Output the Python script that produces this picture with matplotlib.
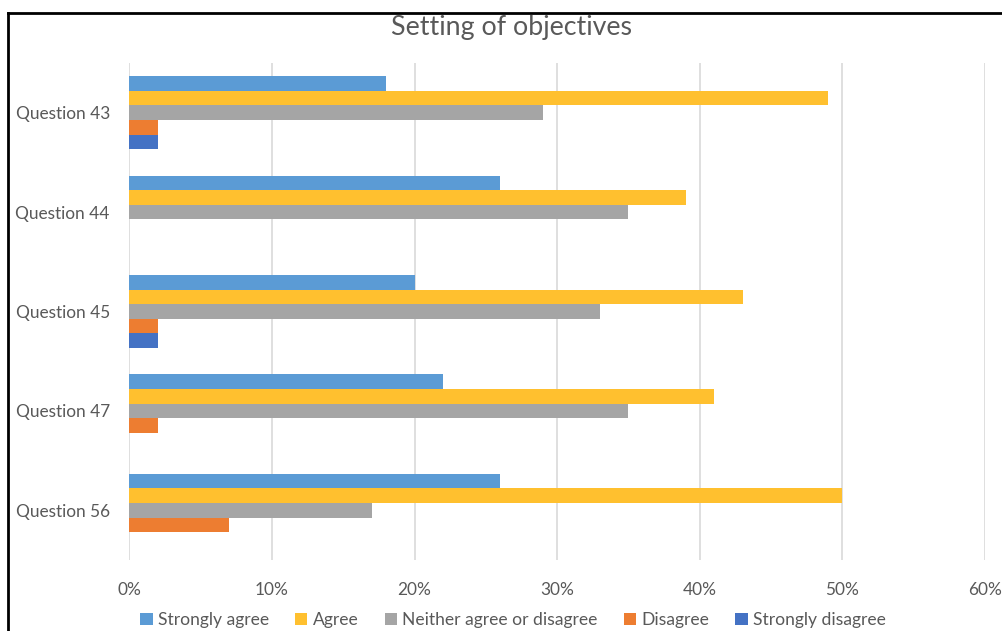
import numpy as np
import matplotlib
matplotlib.use("Agg")
import matplotlib.pyplot as plt
from matplotlib.lines import Line2D
from matplotlib.ticker import PercentFormatter

# Survey responses (share of respondents) per question
questions = ["Question 43", "Question 44", "Question 45", "Question 47", "Question 56"]
series_names = ["Strongly agree", "Agree", "Neither agree or disagree", "Disagree", "Strongly disagree"]
strongly_agree = [0.18, 0.26, 0.20, 0.22, 0.26]
agree = [0.49, 0.39, 0.43, 0.41, 0.50]
neither = [0.29, 0.35, 0.33, 0.35, 0.17]
disagree = [0.02, 0.0, 0.02, 0.02, 0.07]
strongly_disagree = [0.02, 0.0, 0.02, 0.0, 0.0]

series_values = [strongly_agree, agree, neither, disagree, strongly_disagree]
colors = ["#5B9BD5", "#FFC02F", "#A5A5A5", "#ED7D31", "#4472C4"]

text_color = "#595959"
font = "Lato"

W, H = 1002, 631
fig = plt.figure(figsize=(W / 100, H / 100), dpi=100)
ax = fig.add_axes([129.3 / W, 1 - 560 / H, (985 - 129.3) / W, (560 - 63) / H])

n_series = len(series_values)
bar_h = 0.147
y = np.arange(len(questions))
for i, (vals, c, name) in enumerate(zip(series_values, colors, series_names)):
    offset = (i - (n_series - 1) / 2) * bar_h
    ax.barh(y + offset, vals, height=bar_h, color=c, label=name, zorder=3)

ax.set_ylim(len(questions) - 0.5, -0.5)
ax.set_xlim(0, 0.6)
ax.set_xticks(np.arange(0, 0.61, 0.1))
ax.xaxis.set_major_formatter(PercentFormatter(1.0, decimals=0))
ax.set_yticks(y)
ax.set_yticklabels(questions)
ax.grid(axis="x", color="#D9D9D9", linewidth=1.2, zorder=0)
for s in ax.spines.values():
    s.set_visible(False)
ax.tick_params(axis="both", length=0, colors=text_color, labelsize=12.4)
ax.tick_params(axis="x", pad=16)
ax.tick_params(axis="y", pad=14)
for lbl in ax.get_xticklabels() + ax.get_yticklabels():
    lbl.set_fontfamily(font)

fig.text(512 / W, 1 - 27 / H, "Setting of objectives", ha="center", va="center",
         fontsize=19.3, color=text_color, fontfamily=font)

leg = fig.legend(loc="center", bbox_to_anchor=(513 / W, 1 - 620 / H), ncol=5,
                 frameon=False, handlelength=0.7, handleheight=0.7,
                 handletextpad=0.3, columnspacing=1.5,
                 prop={"family": font, "size": 12.6})
for t in leg.get_texts():
    t.set_color(text_color)

# Outer frame (top and left edges)
fig.add_artist(Line2D([8 / W, 1.0], [1 - 13 / H, 1 - 13 / H], color="black",
                      linewidth=2, transform=fig.transFigure))
fig.add_artist(Line2D([8 / W, 8 / W], [0, 1 - 13 / H], color="black",
                      linewidth=2, transform=fig.transFigure))

fig.savefig("out.png", dpi=100)
